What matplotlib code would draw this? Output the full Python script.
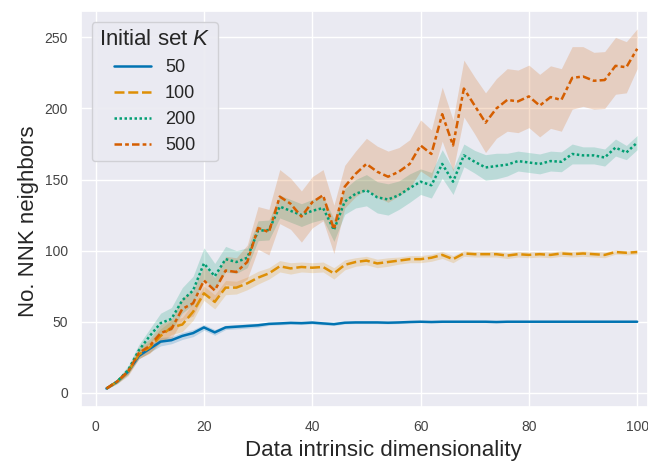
import matplotlib
matplotlib.use('Agg')
import matplotlib.pyplot as plt
import seaborn as sns

# data
dims = list(range(2, 101, 2))

k50 = [3, 8, 15, 26, 31, 36, 37, 40, 42, 46,
       42.5, 46, 46.5, 47, 47.5, 48.5, 48.8, 49.2, 49, 49.4,
       48.8, 48.3, 49.3, 49.5, 49.5, 49.5, 49.3, 49.5, 49.8, 50,
       49.8, 50, 50, 50, 50, 50, 49.8, 50, 50, 50,
       50, 50, 50, 50, 50, 50, 50, 50, 50, 50]
k50_ci = [0.5, 1, 1.5, 2, 2.5, 3, 2.5, 2.5, 2.5, 2,
          2, 1.5, 1.5, 1.5, 1.5, 1, 1, 1, 1, 1,
          1, 1, 0.8, 0.8, 0.8, 0.8, 0.8, 0.8, 0.6, 0.6,
          0.6, 0.6, 0.6, 0.6, 0.6, 0.6, 0.6, 0.5, 0.5, 0.5,
          0.5, 0.5, 0.5, 0.5, 0.5, 0.5, 0.5, 0.5, 0.5, 0.5]

k100 = [3, 8, 15, 27, 32, 40, 46, 48, 57, 70,
        64, 74, 74, 77, 81, 84, 89, 87.5, 88.5, 88,
        88.5, 84, 90, 92, 93, 91, 92, 93, 94, 94,
        95, 97, 94, 98, 97.5, 97.5, 97.5, 96.5, 97.5, 97,
        97.5, 97, 98, 97.5, 98, 97.5, 97, 99, 98.5, 99]
k100_ci = [0.5, 1, 2, 3, 4, 5, 5, 5, 6, 5,
           5, 5, 4.5, 4.5, 4.5, 4, 4, 4, 3.5, 3.5,
           3.5, 4, 3.5, 3, 3, 3, 3, 2.5, 2.5, 2.5,
           2.5, 2.5, 2.5, 2, 2, 2, 2, 2, 2, 2,
           2, 2, 2, 2, 2, 2, 2, 1.5, 1.5, 1.5]

k200 = [3, 8, 16, 30, 40, 49, 52, 65, 72, 91,
        82, 94, 92, 95, 114, 114.5, 131, 128, 125, 128,
        130, 114.5, 134.5, 140, 142.5, 137.5, 136, 139, 144, 148.5,
        146, 161, 148.5, 167, 162.5, 158.5, 159.5, 160.5, 163, 162,
        161, 163, 162.5, 168, 167, 167, 165.5, 172.5, 169, 176]
k200_ci = [0.5, 1.5, 3, 4, 5, 7, 8, 9, 10, 11,
           9, 9, 8, 7, 7, 7, 8, 8, 8, 8,
           8, 8, 9, 10, 11, 11, 11, 10, 10, 9,
           9, 10, 9, 8, 8, 9, 9, 8, 7, 7,
           7, 7, 7, 7, 6, 6, 6, 6, 5, 5]

k500 = [3, 8, 15, 28, 33, 42, 45, 59, 63, 79,
        72, 86, 85, 92, 116, 113, 138, 133, 124, 134,
        139, 115, 145, 154, 161, 155.5, 152, 155.5, 161, 174,
        168, 196, 174, 214, 202, 190, 200, 206, 205, 208.5,
        202, 208, 206, 221.5, 222.5, 219.5, 220, 230, 229, 242]
k500_ci = [0.5, 1.5, 3, 4, 5, 6, 7, 8, 9, 10,
           9, 10, 10, 12, 15, 16, 19, 18, 18, 18,
           18, 17, 15, 16, 18, 18, 18, 17, 17, 18,
           17, 19, 18, 20, 20, 21, 21, 22, 22, 22,
           22, 22, 22, 22, 21, 20, 20, 20, 18, 14]

labels = ['50', '100', '200', '500']
series = [k50, k100, k200, k500]
cis = [k50_ci, k100_ci, k200_ci, k500_ci]

sns.set_theme(style='darkgrid', palette='colorblind')
plt.rcParams['font.family'] = ['Liberation Sans', 'DejaVu Sans']
plt.rcParams['mathtext.fontset'] = 'custom'
plt.rcParams['mathtext.it'] = 'Liberation Sans:italic'
plt.rcParams['mathtext.rm'] = 'Liberation Sans'

colors = sns.color_palette('colorblind')
dashes = ['', (4, 1.5), (1, 1), (3, 1.25, 1.5, 1.25)]

fig = plt.figure(figsize=(6.48, 4.62), dpi=100)
ax = fig.add_axes([0.125, 0.119, 0.875, 0.857])

for vals, ci, lab, col, dsh in zip(series, cis, labels, colors, dashes):
    lo = [v - c for v, c in zip(vals, ci)]
    hi = [v + c for v, c in zip(vals, ci)]
    ax.fill_between(dims, lo, hi, color=col, alpha=0.2, linewidth=0)
    line, = ax.plot(dims, vals, color=col, lw=1.8, label=lab)
    if dsh:
        line.set_dashes(dsh)

ax.set_xlim(-2.7, 102)
ax.set_ylim(-10, 268.5)
ax.set_xticks([0, 20, 40, 60, 80, 100])
ax.set_yticks([0, 50, 100, 150, 200, 250])
ax.tick_params(labelsize=10, colors='#444444')
ax.set_xlabel('Data intrinsic dimensionality', fontsize=16, color='#262626')
ax.set_ylabel('No. NNK neighbors', fontsize=16, color='#262626')
# the labels sit a bit off-centre in the reference
ax.xaxis.label.set_x(0.534)
ax.yaxis.label.set_y(0.468)

leg = ax.legend(title='Initial set $K$', fontsize=13, title_fontsize=16,
                loc='upper left', borderaxespad=0.6,
                facecolor='#ebebf2', edgecolor='#cfcfd4', framealpha=0.95)

fig.savefig('out.png', dpi=100)
